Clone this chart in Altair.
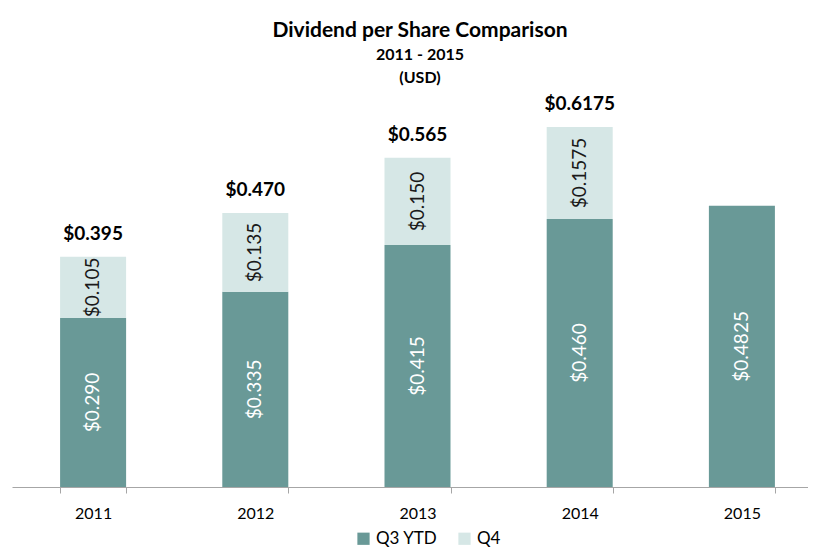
import altair as alt
import pandas as pd

years = ["2011", "2012", "2013", "2014", "2015"]
q3_ytd = [0.290, 0.335, 0.415, 0.460, 0.4825]
q4 = [0.105, 0.135, 0.150, 0.1575, None]
totals = [0.395, 0.470, 0.565, 0.6175, None]
series = ["Q3 YTD", "Q4"]
colors = ["#699997", "#d6e7e6"]
FONT = "Lato"


def fmt(v):
    return f"${v:.3f}" if abs(round(v, 3) - v) < 1e-9 else f"${v:.4f}"


rows = []
for i, y in enumerate(years):
    for s_idx, (s, vals) in enumerate(zip(series, [q3_ytd, q4])):
        v = vals[i]
        if v is None:
            continue
        rows.append({"year": y, "series": s, "order": s_idx, "value": v, "label": fmt(v)})
df = pd.DataFrame(rows)

tot_df = pd.DataFrame(
    [{"year": y, "total": t, "label": fmt(t)} for y, t in zip(years, totals) if t is not None]
)

x_enc = alt.X(
    "year:N",
    sort=years,
    scale=alt.Scale(paddingInner=0.593, paddingOuter=0.2965, range=[0, 811]),
    axis=alt.Axis(
        title=None,
        labelAngle=0,
        labelFontSize=16,
        labelFont=FONT,
        labelColor="#000000",
        domainColor="#a6a6a6",
        tickColor="#a6a6a6",
        tickSize=6,
        tickBand="extent",
        labelPadding=12,
        grid=False,
    ),
)
y_scale = alt.Scale(domain=[0, 0.7], nice=False)

base = alt.Chart(df)

bars = base.mark_bar().encode(
    x=x_enc,
    y=alt.Y("value:Q", stack="zero", scale=y_scale, axis=None),
    color=alt.Color(
        "series:N",
        scale=alt.Scale(domain=series, range=colors),
        legend=alt.Legend(
            title=None,
            orient="none",
            direction="horizontal",
            legendX=343,
            legendY=451,
            symbolType="square",
            symbolSize=150,
            symbolStrokeWidth=0,
            labelFontSize=17,
            labelFont=FONT,
            labelColor="#000000",
            columnPadding=18,
        ),
    ),
    order=alt.Order("order:Q"),
)

stacked = base.transform_stack(
    stack="value", groupby=["year"], as_=["v0", "v1"], sort=[alt.SortField("order")]
).transform_calculate(mid="(datum.v0 + datum.v1) / 2")

inner_q3 = stacked.transform_filter("datum.series == 'Q3 YTD'").mark_text(
    angle=270, fontSize=19, font=FONT, color="#ffffff", align="center", baseline="middle"
).encode(x=x_enc, y=alt.Y("mid:Q", scale=y_scale, axis=None), text="label:N")

inner_q4 = stacked.transform_filter("datum.series == 'Q4'").mark_text(
    angle=270, fontSize=19, font=FONT, color="#1a1a1a", align="center", baseline="middle"
).encode(x=x_enc, y=alt.Y("mid:Q", scale=y_scale, axis=None), text="label:N")

tot_text = alt.Chart(tot_df).mark_text(
    fontSize=19, font=FONT, fontWeight="bold", color="#000000", baseline="alphabetic", dy=-17
).encode(x=x_enc, y=alt.Y("total:Q", scale=y_scale, axis=None), text="label:N")

chart = (
    alt.layer(bars, inner_q3, inner_q4, tot_text)
    .properties(
        width=796,
        height=408,
        autosize=alt.AutoSizeParams(type="none"),
        padding={"left": 4, "top": 71, "right": 0, "bottom": 62},
        title=alt.TitleParams(
            text="Dividend per Share Comparison",
            subtitle=["2011 - 2015", "(USD)"],
            font=FONT,
            fontSize=21,
            fontWeight="bold",
            color="#000000",
            subtitleFont=FONT,
            subtitleFontSize=16,
            subtitleFontWeight="bold",
            subtitleColor="#000000",
            subtitleLineHeight=23,
            subtitlePadding=6,
            anchor="middle",
            dx=10,
            offset=-7,
        ),
    )
    .configure_view(stroke=None)
)

chart.save("out.html", embed_options={"renderer": "svg", "actions": False})
